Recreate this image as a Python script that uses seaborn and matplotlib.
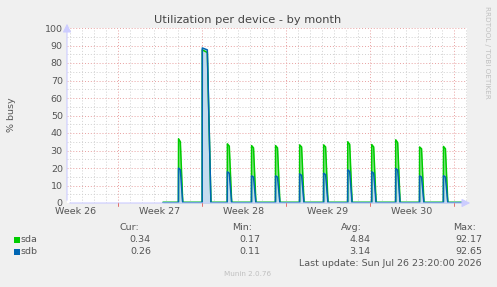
import matplotlib
matplotlib.use("Agg")
import matplotlib.pyplot as plt
import seaborn as sns
import pandas as pd
import numpy as np

# ---------------- data (days since start of week 26) ----------------
t = [10.75,
     12.04, 12.05, 12.20, 12.40,
     14.02, 14.03, 14.45, 14.75,
     16.11, 16.12, 16.28, 16.48,
     18.13, 18.14, 18.30, 18.50,
     20.13, 20.14, 20.30, 20.50,
     22.14, 22.15, 22.31, 22.51,
     24.14, 24.15, 24.31, 24.51,
     26.15, 26.16, 26.32, 26.52,
     28.15, 28.16, 28.32, 28.52,
     30.15, 30.16, 30.32, 30.52,
     32.14, 32.15, 32.31, 32.51,
     34.13, 34.14, 34.30, 34.50,
     36.00]
sda = [0.4,
       0.4, 36.7, 35.0, 0.4,
       0.4, 87.5, 86.0, 0.4,
       0.4, 33.8, 32.5, 0.4,
       0.4, 32.8, 31.5, 0.4,
       0.4, 32.8, 31.5, 0.4,
       0.4, 33.2, 32.0, 0.4,
       0.4, 33.2, 32.0, 0.4,
       0.4, 35.0, 33.5, 0.4,
       0.4, 33.4, 32.0, 0.4,
       0.4, 36.1, 34.5, 0.4,
       0.4, 32.0, 31.0, 0.4,
       0.4, 32.3, 31.0, 0.4,
       0.34]
sdb = [0.2,
       0.2, 19.9, 19.0, 0.2,
       0.2, 88.6, 87.5, 0.2,
       0.2, 17.8, 17.0, 0.2,
       0.2, 15.5, 14.8, 0.2,
       0.2, 15.5, 14.8, 0.2,
       0.2, 16.6, 15.8, 0.2,
       0.2, 17.0, 16.2, 0.2,
       0.2, 18.9, 18.0, 0.2,
       0.2, 17.8, 17.0, 0.2,
       0.2, 19.7, 18.8, 0.2,
       0.2, 15.5, 14.8, 0.2,
       0.2, 15.6, 14.8, 0.2,
       0.26]

week_labels = ["Week 26", "Week 27", "Week 28", "Week 29", "Week 30"]
week_centers = [3.5, 10.5, 17.5, 24.5, 31.5]
week_starts = [7, 14, 21, 28, 35]

legend_names = ["sda", "sdb"]
cur = ["0.34", "0.26"]
mins = ["0.17", "0.11"]
avgs = ["4.84", "3.14"]
maxs = ["92.17", "92.65"]
colors = ["#00cc00", "#0066b3"]

# ---------------- plotting ----------------
sns.set_style("white")
plt.rcParams['font.family'] = ['DejaVu Sans']
W, H = 497, 287
fig = plt.figure(figsize=(W / 100, H / 100), dpi=100, facecolor="#f0f0f0")
L, R, T, B = 67, 467, 28, 203
ax = fig.add_axes([L / W, 1 - B / H, (R - L) / W, (B - T) / H])
ax.set_facecolor("white")

xmin, xmax = 2.75, 36.1
ax.set_xlim(xmin, xmax)
ax.set_ylim(0, 100)

# grid
for d in range(3, 37):
    if d not in week_starts:
        ax.axvline(d, color="#d0d0d0", lw=0.7, ls=(0, (1, 2)), zorder=0)
for d in week_starts:
    ax.axvline(d, color="#e8a0a0", lw=0.7, ls=(0, (1, 2)), zorder=0)
for yv in range(5, 100, 10):
    ax.axhline(yv, color="#d0d0d0", lw=0.7, ls=(0, (1, 2)), zorder=0)
for yv in range(10, 101, 10):
    ax.axhline(yv, color="#e8a0a0", lw=0.7, ls=(0, (1, 2)), zorder=0)

df = pd.DataFrame({"t": t, "sda": sda, "sdb": sdb})
ax.fill_between(df["t"], 0, df["sda"], color="#8ee88e", lw=0, zorder=1)
ax.fill_between(df["t"], 0, df["sdb"], color="#c4dcee", lw=0, zorder=2)
sns.lineplot(data=df, x="t", y="sda", ax=ax, color=colors[0], lw=1.1,
             sort=False, estimator=None, zorder=3)
sns.lineplot(data=df, x="t", y="sdb", ax=ax, color=colors[1], lw=1.1,
             sort=False, estimator=None, zorder=4)

for s in ax.spines.values():
    s.set_visible(False)
ax.set_xlabel("")
ax.set_ylabel("")

# axes arrows
ax.annotate("", xy=(xmax + 0.5, 0), xytext=(xmin, 0), xycoords="data",
            arrowprops=dict(arrowstyle="-|>,head_width=0.25,head_length=0.5",
                            color="#ccccff", lw=0.8), annotation_clip=False, zorder=5)
ax.annotate("", xy=(xmin, 104), xytext=(xmin, 0), xycoords="data",
            arrowprops=dict(arrowstyle="-|>,head_width=0.25,head_length=0.5",
                            color="#ccccff", lw=0.8), annotation_clip=False, zorder=5)

tc = "#555555"
ax.set_yticks(range(0, 101, 10))
ax.set_yticklabels([str(v) for v in range(0, 101, 10)])
ax.set_xticks(week_centers)
ax.set_xticklabels(week_labels)
ax.tick_params(axis="both", length=0, labelsize=6.8, colors=tc)
ax.tick_params(axis="y", pad=3)
ax.tick_params(axis="x", pad=3)
for d in week_starts:
    ax.plot([d, d], [-1.5, 0], color="#e07070", lw=0.7, clip_on=False, zorder=5)

fig.text(248 / W, 1 - 20 / H, "Utilization per device - by month", ha="center",
         va="center", fontsize=8.2, color="#444444")
fig.text(12 / W, 1 - 115 / H, "% busy", rotation=90, ha="center", va="center",
         fontsize=6.8, color=tc)
fig.text(487 / W, 1 - 52 / H, "RRDTOOL / TOBI OETIKER", rotation=270,
         ha="center", va="center", fontsize=5.2, color="#c0c0c0")

# legend
hy = 227
fs = 6.8
for txt, xr in zip(["Cur:", "Min:", "Avg:", "Max:"], [139, 252, 362, 476]):
    fig.text(xr / W, 1 - hy / H, txt, ha="right", va="center", fontsize=fs, color=tc)
rows_y = [239.5, 251.5]
for i, name in enumerate(legend_names):
    y = rows_y[i]
    fig.patches.append(matplotlib.patches.Rectangle(
        (14 / W, 1 - (y + 3) / H), 6 / W, 6 / H, transform=fig.transFigure,
        facecolor=colors[i], edgecolor="none"))
    fig.text(20.5 / W, 1 - y / H, name, ha="left", va="center", fontsize=fs, color=tc)
    for val, xr in zip([cur[i], mins[i], avgs[i], maxs[i]], [151, 260, 370, 482]):
        fig.text(xr / W, 1 - y / H, val, ha="right", va="center", fontsize=fs, color=tc)

fig.text(482 / W, 1 - 263 / H, "Last update: Sun Jul 26 23:20:00 2026", ha="right",
         va="center", fontsize=fs, color=tc)
fig.text(248 / W, 1 - 274.5 / H, "Munin 2.0.76", ha="center", va="center",
         fontsize=5.2, color="#c0c0c0")

fig.savefig("out.png", dpi=100, facecolor=fig.get_facecolor())
